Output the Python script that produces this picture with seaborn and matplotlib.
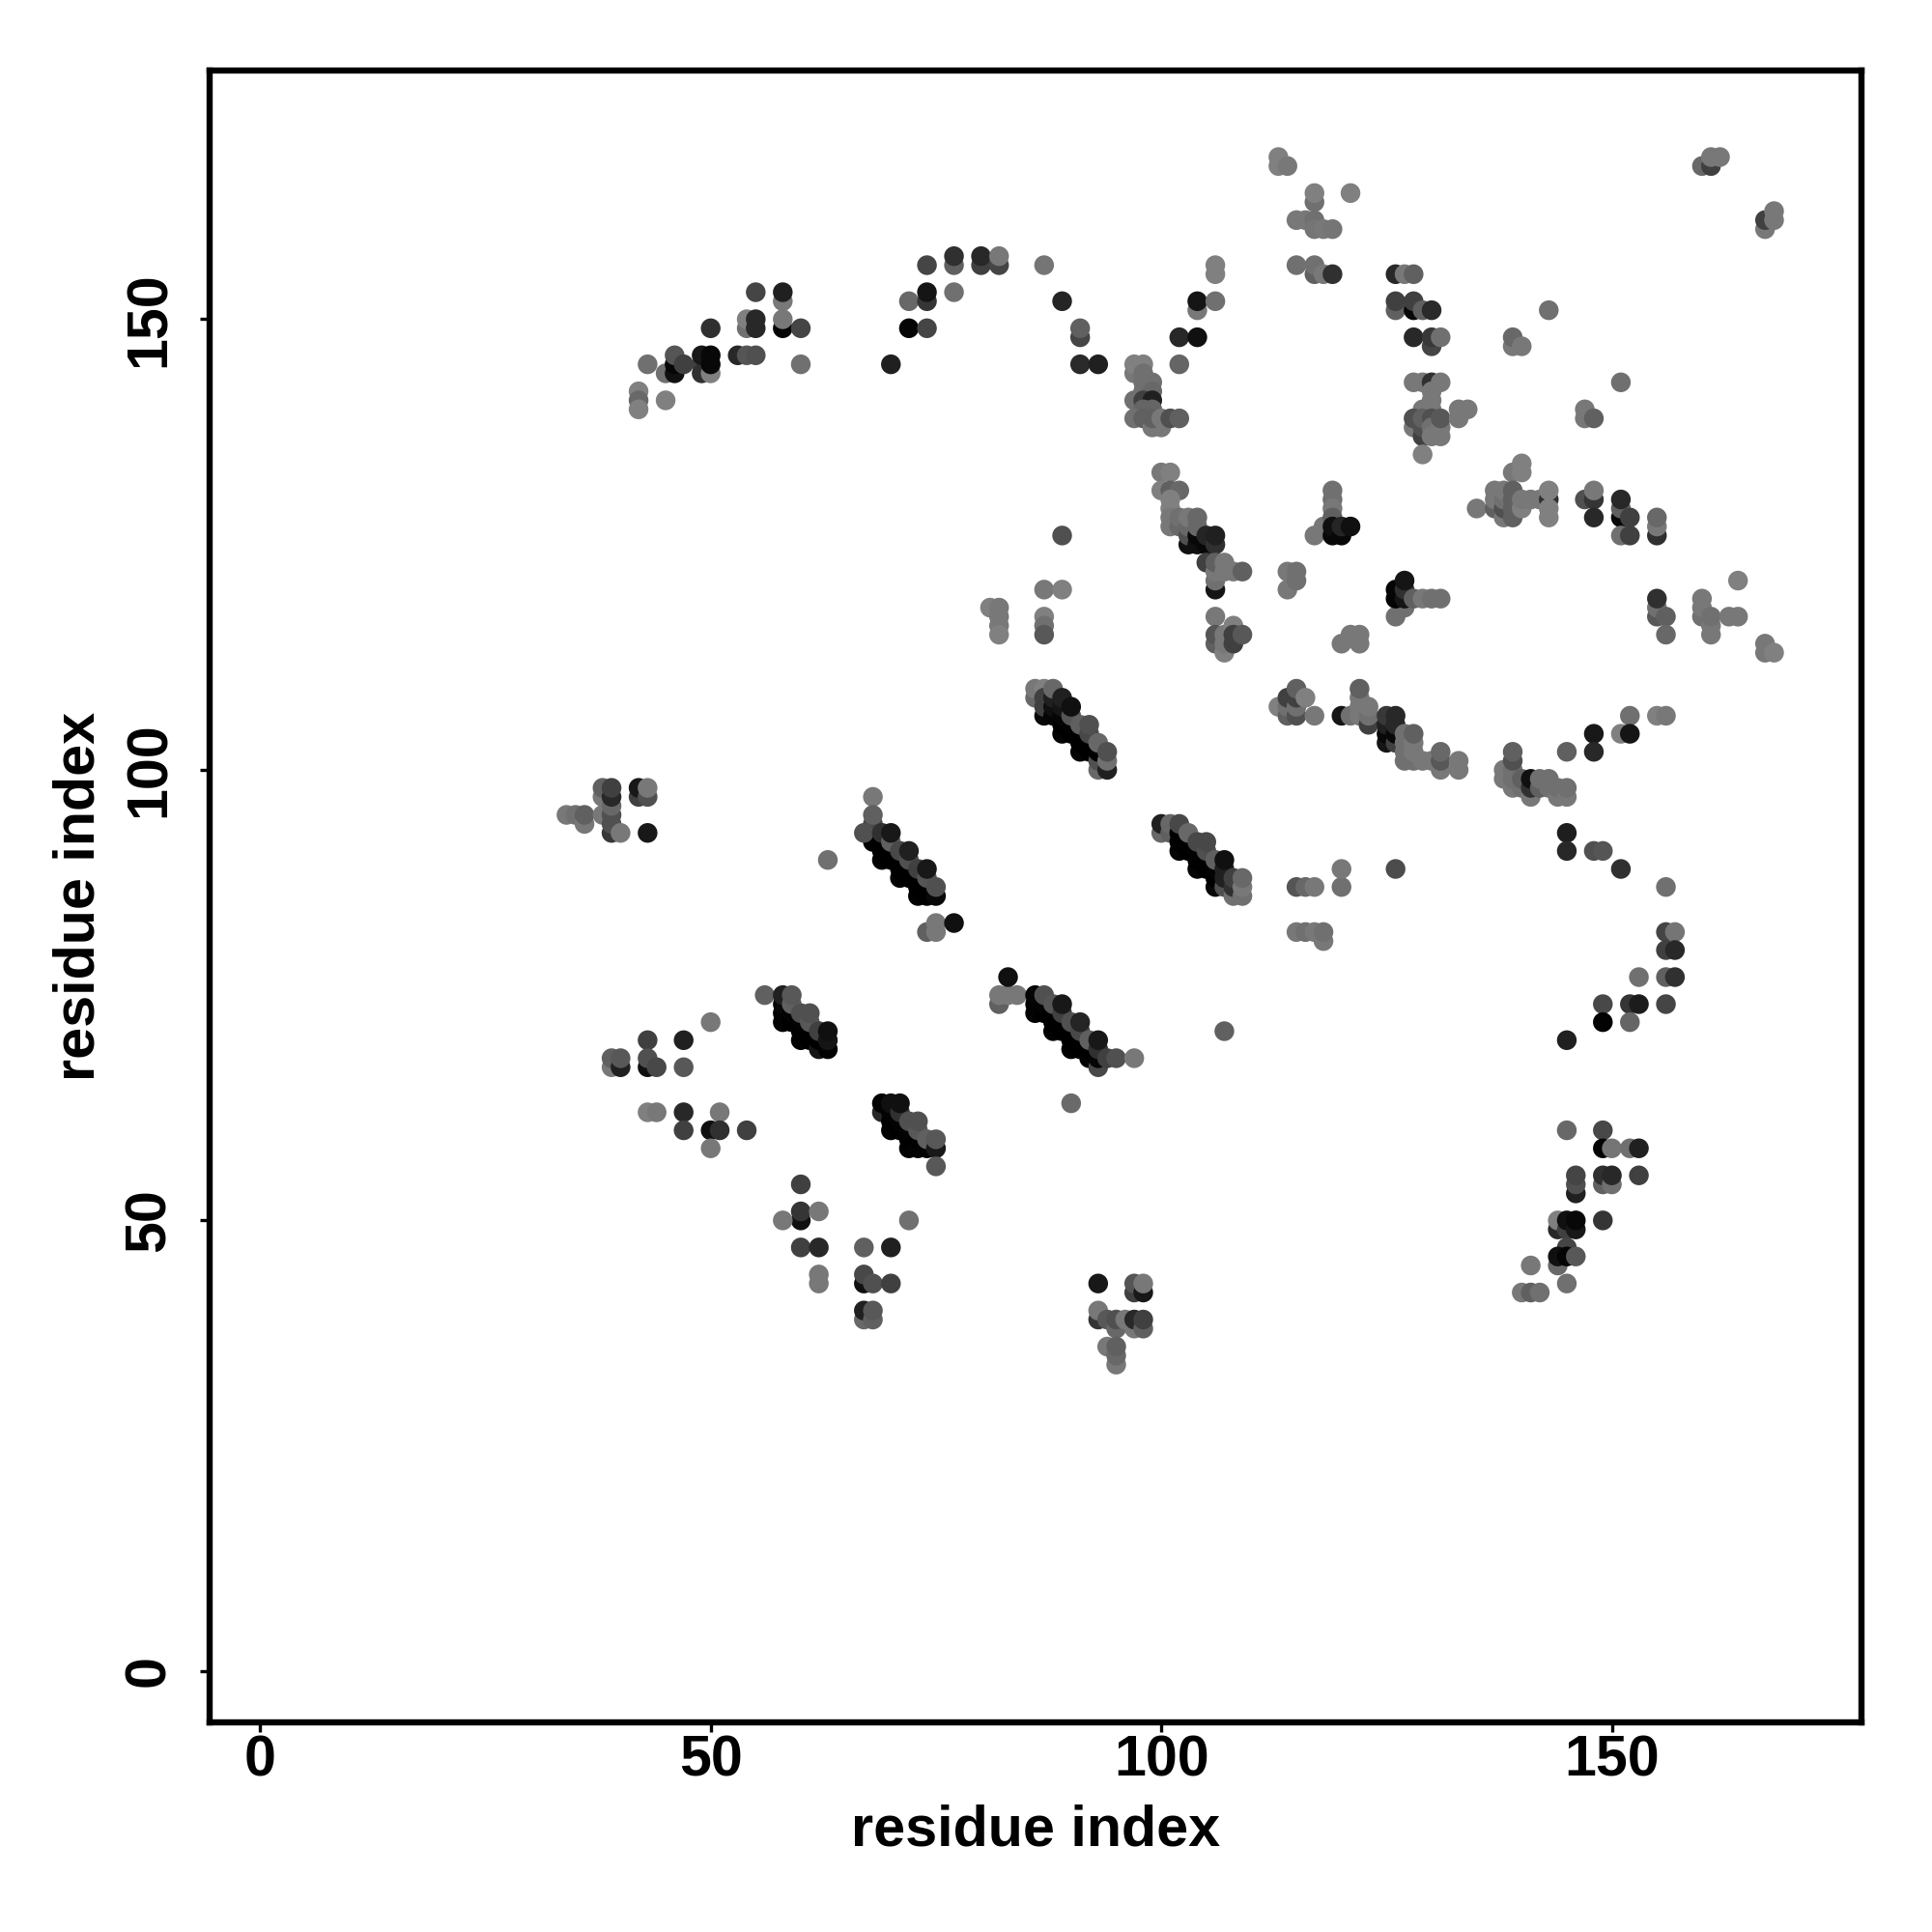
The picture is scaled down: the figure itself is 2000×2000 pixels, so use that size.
import matplotlib.pyplot as plt
import seaborn as sns
import pandas as pd

# (residue i, residue j, grey level)
upper_left = [
    (42,142,0x80),(42,141,0x68),(42,140,0x80),(43,145,0x70),(45,141,0x80),(45,144,0x70),
    (46,144,0x10),(46,145,0x05),(46,146,0x55),(47,145,0x40),(49,145,0x40),(49,144,0x30),
    (49,146,0x18),(50,144,0x80),(50,146,0x08),(50,145,0x08),(50,149,0x30),(53,146,0x28),
    (54,146,0x55),(55,146,0x50),(54,149,0x70),(54,150,0x80),(55,150,0x28),(55,149,0x28),
    (55,153,0x45),(58,152,0x78),(58,153,0x20),(58,149,0x05),(58,150,0x78),(60,149,0x45),
    (60,145,0x70),(70,145,0x20),(72,149,0x05),(74,149,0x45),(72,152,0x68),(74,152,0x35),
    (74,153,0x15),(74,156,0x45),(77,156,0x60),(77,157,0x30),(77,153,0x70),(80,156,0x40),
    (80,157,0x28),(82,156,0x45),(82,157,0x78),(87,156,0x75),(89,152,0x25),(91,148,0x45),
    (91,149,0x60),(91,145,0x2a),(93,145,0x20),
]
upper_mid = [
    (97,144,0x78),(97,145,0x80),(98,145,0x80),(98,144,0x70),(98,143,0x70),(99,143,0x70),
    (98,142,0x70),(99,142,0x68),(97,141,0x70),(98,141,0x40),(99,141,0x20),(98,140,0x65),
    (99,140,0x65),(97,139,0x70),(98,139,0x60),(99,138,0x78),(100,138,0x78),(99,139,0x60),
    (100,139,0x78),(101,139,0x50),(102,139,0x60),(102,145,0x65),(102,148,0x28),(104,148,0x10),
    (104,151,0x78),(104,152,0x15),(106,152,0x70),(106,155,0x80),(106,156,0x80),
    (113,168,0x80),(113,167,0x80),(114,167,0x78),(117,163,0x70),(117,164,0x80),(121,164,0x80),
    (115,161,0x78),(116,161,0x78),(117,161,0x70),(117,160,0x75),(118,160,0x78),(119,160,0x75),
    (115,156,0x70),(117,155,0x60),(117,156,0x70),(118,155,0x78),(119,155,0x30),
]
upper_right = [
    (126,155,0x28),(127,155,0x78),(128,155,0x60),(126,151,0x60),(126,152,0x40),(128,151,0x08),
    (128,152,0x40),(129,151,0x60),(130,151,0x2a),(128,148,0x28),(130,147,0x45),(130,148,0x38),
    (131,148,0x70),(128,143,0x78),(129,143,0x78),(130,143,0x30),(131,143,0x78),(130,142,0x78),
    (130,141,0x78),(129,140,0x78),(130,140,0x78),(128,138,0x78),(128,139,0x50),(129,137,0x40),
    (129,138,0x50),(129,139,0x60),(130,139,0x50),(130,138,0x70),(130,137,0x78),(131,138,0x78),
    (131,137,0x78),(131,139,0x58),(129,135,0x80),(133,139,0x78),(133,140,0x78),(134,140,0x78),
    (139,147,0x78),(139,148,0x68),(140,147,0x78),(143,151,0x70),(151,143,0x70),(147,139,0x78),
    (147,140,0x78),(148,139,0x60),(160,167,0x68),(161,167,0x40),(161,168,0x78),(162,168,0x78),
    (167,160,0x78),(167,161,0x40),(168,161,0x78),(168,162,0x78),
]
mid_left = [
    (89,126,0x50),(87,120,0x78),(89,120,0x80),(81,118,0x80),(82,118,0x78),(82,117,0x78),
    (82,116,0x78),(82,115,0x80),(87,117,0x80),(87,116,0x70),(87,115,0x58),
    (100,133,0x78),(101,133,0x80),(100,131,0x80),(101,131,0x60),(102,131,0x68),(101,130,0x80),
    (101,129,0x80),(101,128,0x78),(101,127,0x78),(102,127,0x68),(102,128,0x70),(103,125,0x10),
    (103,126,0x50),(103,127,0x68),(103,128,0x78),(104,125,0x10),(104,126,0x08),(104,127,0x68),
    (104,128,0x68),(105,125,0x08),(105,126,0x25),(106,125,0x30),(106,126,0x20),
    (105,123,0x40),(106,120,0x15),(106,121,0x70),(106,122,0x78),(106,123,0x60),(107,123,0x78),
    (107,122,0x78),(108,122,0x78),(109,122,0x60),(106,117,0x78),(106,114,0x60),(106,115,0x55),
    (107,113,0x80),(107,114,0x78),(107,115,0x78),(108,116,0x80),(108,114,0x40),(108,115,0x40),
    (109,115,0x58),(114,120,0x78),(114,122,0x78),(115,121,0x70),(115,122,0x70),
    (117,126,0x78),(118,127,0x78),(119,131,0x70),(119,130,0x70),(119,129,0x78),(119,128,0x60),
    (119,126,0x08),(119,127,0x10),(120,126,0x08),(120,127,0x25),(121,127,0x10),
    (120,114,0x78),(121,115,0x78),(122,114,0x78),(122,115,0x78),
]
mid_center = [
    (113,107,0x80),(114,106,0x60),(114,107,0x70),(114,108,0x40),(115,106,0x50),(115,107,0x70),
    (115,108,0x40),(115,109,0x60),(116,108,0x80),(117,106,0x78),(120,106,0x15),(121,106,0x70),
    (122,106,0x78),(122,107,0x78),(122,108,0x78),(122,109,0x60),(123,105,0x40),(123,106,0x70),
    (123,107,0x78),(125,103,0x15),(125,104,0x08),(125,105,0x20),(125,106,0x38),(126,103,0x40),
    (126,104,0x08),(126,105,0x28),(126,106,0x28),(127,101,0x70),(127,102,0x70),(127,103,0x70),
    (127,104,0x70),(128,101,0x70),(128,102,0x78),(128,103,0x78),(128,104,0x60),(129,101,0x78),
    (130,101,0x78),(131,100,0x78),(131,101,0x58),(131,102,0x68),(133,100,0x78),(133,101,0x78),
    (126,117,0x70),(127,118,0x70),(126,119,0x05),(126,120,0x05),(127,119,0x15),(127,120,0x30),
    (127,121,0x15),(128,119,0x60),(129,119,0x78),(130,119,0x70),(131,119,0x70),
]
mid_right = [
    (135,129,0x78),(139,133,0x78),(140,133,0x80),(140,134,0x80),(137,129,0x60),(137,130,0x78),
    (137,131,0x78),(138,128,0x78),(138,129,0x50),(138,130,0x70),(138,131,0x78),(139,128,0x60),
    (139,129,0x60),(139,130,0x60),(139,131,0x60),(140,129,0x80),(140,130,0x78),(141,130,0x78),
    (142,130,0x78),(143,130,0x30),(143,128,0x80),(143,129,0x80),(143,131,0x80),
    (147,130,0x50),(148,130,0x35),(148,131,0x78),(148,128,0x28),(151,128,0x08),(151,129,0x60),
    (151,130,0x28),(152,128,0x40),(151,126,0x70),(152,126,0x40),(155,126,0x30),(155,127,0x78),
    (155,128,0x68),(155,117,0x58),(155,118,0x70),(155,119,0x30),(156,117,0x60),(156,115,0x68),
    (160,117,0x70),(160,118,0x78),(160,119,0x78),(161,115,0x78),(161,116,0x78),(161,117,0x70),
    (163,117,0x78),(164,117,0x78),(164,121,0x80),(167,113,0x78),(167,114,0x78),(168,113,0x80),
    (152,106,0x70),(155,106,0x80),(156,106,0x78),(151,104,0x80),(152,104,0x15),(148,104,0x18),
    (148,102,0x28),(145,102,0x60),
    (139,98,0x78),(138,99,0x78),(138,100,0x78),(139,99,0x70),(139,100,0x70),(139,101,0x50),
    (139,102,0x60),(140,98,0x70),(140,99,0x60),(141,97,0x78),(141,98,0x30),(141,99,0x10),
    (142,98,0x60),(142,99,0x70),(143,98,0x70),(143,99,0x70),(144,97,0x78),(144,98,0x70),
    (145,97,0x78),(145,98,0x70),
]
diag_upper = [
    (86,108,0x68),(86,109,0x78),(87,109,0x80),(87,106,0x08),(87,107,0x40),(87,108,0x40),
    (88,106,0x05),(88,107,0x10),(88,108,0x20),(88,109,0x68),(89,104,0x05),(89,105,0x00),
    (89,106,0x05),(89,107,0x15),(89,108,0x20),(90,104,0x00),(90,105,0x03),(90,106,0x55),
    (90,107,0x10),(91,102,0x05),(91,103,0x00),(91,104,0x00),(91,105,0x60),(92,102,0x00),
    (92,103,0x00),(92,104,0x48),(92,105,0x50),(93,100,0x68),(93,101,0x50),(93,102,0x00),
    (93,103,0x68),(94,100,0x20),(94,101,0x70),(94,102,0x50),
]
diag_right = [
    (100,93,0x68),(100,94,0x20),(101,93,0x60),(101,94,0x68),(102,91,0x05),(102,92,0x00),
    (102,93,0x00),(102,94,0x48),(103,91,0x00),(103,92,0x00),(103,93,0x68),(104,89,0x05),
    (104,90,0x00),(104,91,0x02),(104,92,0x48),(105,89,0x00),(105,90,0x00),(105,91,0x50),
    (105,92,0x48),(106,87,0x08),(106,88,0x00),(106,89,0x03),(106,90,0x60),(107,87,0x50),
    (107,88,0x20),(107,89,0x20),(107,90,0x10),(108,86,0x70),(108,87,0x30),(108,88,0x40),
    (109,86,0x70),(109,87,0x78),(109,88,0x68),
    (115,87,0x55),(116,87,0x68),(117,87,0x78),(120,87,0x70),(120,89,0x78),
    (115,82,0x78),(116,82,0x70),(117,82,0x78),(118,81,0x78),(118,82,0x70),
    (126,89,0x4c),(107,71,0x60),
]
right_arc = [
    (145,93,0x1e),(145,91,0x28),(148,91,0x50),(149,91,0x55),(151,89,0x30),(156,87,0x70),
    (156,82,0x45),(157,82,0x75),(156,80,0x40),(157,80,0x28),(153,77,0x70),(156,77,0x60),
    (157,77,0x30),(149,74,0x48),(152,74,0x35),(153,74,0x1c),(156,74,0x45),(149,72,0x03),
    (152,72,0x65),(145,70,0x20),(145,60,0x68),(149,60,0x48),(149,58,0x05),(150,58,0x75),
    (152,58,0x70),(153,58,0x20),(146,53,0x20),(146,54,0x50),(146,55,0x45),(149,54,0x60),
    (149,55,0x30),(150,54,0x70),(150,55,0x28),(153,55,0x40),(144,49,0x28),(144,50,0x80),
    (145,49,0x40),(145,50,0x10),(146,49,0x18),(146,50,0x08),(149,50,0x35),(144,45,0x68),
    (145,47,0x45),(144,46,0x10),(145,46,0x05),(146,46,0x58),(141,45,0x78),(145,43,0x70),
    (140,42,0x78),(141,42,0x60),(142,42,0x70),
]
left_cluster = [
    (34,95,0x78),(35,95,0x70),(36,94,0x78),(36,95,0x60),(38,97,0x78),(38,98,0x60),(38,95,0x78),
    (39,93,0x38),(39,94,0x50),(39,95,0x50),(39,96,0x68),(39,97,0x28),(39,98,0x40),(40,93,0x78),
    (42,97,0x40),(42,98,0x18),(43,97,0x50),(43,98,0x78),(43,93,0x18),(63,90,0x70),
]
diag_mid = [
    (68,97,0x78),(68,92,0x00),(68,93,0x05),(68,94,0x48),(68,95,0x60),(67,93,0x50),(69,90,0x03),
    (69,91,0x00),(69,92,0x00),(69,93,0x30),(70,90,0x00),(70,91,0x00),(70,92,0x60),(70,93,0x18),
    (71,88,0x03),(71,89,0x00),(71,90,0x00),(71,91,0x48),(72,88,0x00),(72,89,0x00),(72,90,0x50),
    (72,91,0x20),(73,86,0x03),(73,87,0x00),(73,88,0x00),(73,89,0x40),(74,86,0x00),(74,87,0x00),
    (74,88,0x55),(74,89,0x18),(75,86,0x08),(75,87,0x50),
    (74,82,0x60),(75,82,0x78),(75,83,0x78),(77,83,0x10),
]
diag_low_left = [
    (56,75,0x60),(58,72,0x03),(58,73,0x03),(58,74,0x08),(58,75,0x20),(59,72,0x00),(59,73,0x03),
    (59,74,0x60),(59,75,0x58),(60,70,0x03),(60,71,0x00),(60,72,0x03),(60,73,0x50),(61,70,0x00),
    (61,71,0x00),(61,72,0x58),(61,73,0x50),(62,69,0x15),(62,70,0x00),(62,71,0x40),(63,69,0x03),
    (63,70,0x15),(63,71,0x10),
]
diag_low_mid = [
    (82,74,0x60),(82,75,0x78),(83,75,0x78),(84,75,0x78),(83,77,0x10),
    (86,73,0x03),(86,74,0x03),(86,75,0x05),(87,73,0x00),(87,74,0x03),(87,75,0x50),(88,71,0x03),
    (88,72,0x00),(88,73,0x00),(88,74,0x55),(89,71,0x00),(89,72,0x00),(89,73,0x40),(89,74,0x18),
    (90,69,0x03),(90,70,0x00),(90,71,0x00),(90,72,0x50),(91,69,0x00),(91,70,0x00),(91,71,0x48),
    (91,72,0x25),(92,68,0x03),(92,69,0x00),(92,70,0x60),(93,67,0x48),(93,68,0x05),(93,69,0x30),
    (93,70,0x18),(94,68,0x40),(95,68,0x50),(97,68,0x78),(90,63,0x6a),
]
diag_low = [
    (69,62,0x28),(69,63,0x03),(70,60,0x03),(70,61,0x00),(70,62,0x03),(70,63,0x10),(71,60,0x00),
    (71,61,0x03),(71,62,0x30),(71,63,0x10),(72,58,0x03),(72,59,0x00),(72,60,0x03),(72,61,0x50),
    (73,58,0x03),(73,59,0x00),(73,60,0x58),(73,61,0x50),(74,58,0x03),(74,59,0x60),(75,58,0x18),
    (75,59,0x58),(75,56,0x58),
]
lower_left = [
    (50,72,0x78),(43,70,0x40),(47,70,0x20),(39,67,0x78),(39,68,0x60),(40,67,0x20),(40,68,0x58),
    (43,67,0x10),(43,68,0x50),(44,67,0x48),(47,67,0x58),(43,62,0x80),(44,62,0x78),(47,62,0x28),
    (51,62,0x78),(47,60,0x40),(50,60,0x10),(51,60,0x30),(54,60,0x40),(50,58,0x78),
    (60,54,0x40),(60,50,0x10),(60,51,0x35),(62,51,0x78),(58,50,0x78),(60,47,0x40),(62,47,0x28),
    (62,43,0x78),(62,44,0x78),(67,47,0x60),(70,47,0x20),(72,50,0x70),(67,43,0x10),(67,44,0x48),
    (68,43,0x50),(70,43,0x40),(67,39,0x68),(67,40,0x20),(68,39,0x60),(68,40,0x58),
    (93,43,0x18),(97,42,0x40),(97,43,0x55),(98,42,0x18),(98,43,0x78),(93,39,0x35),(93,40,0x78),
    (94,39,0x58),(95,38,0x68),(95,39,0x50),(96,39,0x78),(97,38,0x78),(97,39,0x28),(98,38,0x60),
    (98,39,0x40),(94,36,0x78),(95,34,0x78),(95,35,0x68),(95,36,0x60),
]

contacts = pd.DataFrame(
    upper_left + upper_mid + upper_right + mid_left + mid_center + mid_right
    + diag_upper + diag_right + right_arc + left_cluster + diag_mid
    + diag_low_left + diag_low_mid + diag_low + lower_left,
    columns=["i", "j", "grey"],
)

sns.set_theme(style="white")
plt.rcParams["font.family"] = ["Liberation Sans", "DejaVu Sans"]

fig = plt.figure(figsize=(10, 10), dpi=200)
ax = fig.add_axes([217 / 2000, 1 - 1783 / 2000, 1710 / 2000, 1710 / 2000])

sns.scatterplot(
    data=contacts, x="i", y="j", hue="grey",
    palette="gray", hue_norm=(0, 255),
    s=54, linewidth=0, legend=False, ax=ax,
)

ax.set_xlim(-5.6, 177.7)
ax.set_ylim(-5.7, 177.6)
ax.set_xticks([0, 50, 100, 150])
ax.set_yticks([0, 50, 100, 150])
ax.tick_params(axis="both", direction="out", length=3.5, width=1.2, color="black",
               labelsize=21.3, labelcolor="black", bottom=True, left=True)
ax.tick_params(axis="x", pad=1)
ax.tick_params(axis="y", pad=9)
for lab in ax.get_xticklabels() + ax.get_yticklabels():
    lab.set_fontweight("bold")
for lab in ax.get_yticklabels():
    lab.set_rotation(90)
    lab.set_va("center")
for s in ax.spines.values():
    s.set_linewidth(2.3)
    s.set_color("black")

ax.set_xlabel("residue index", fontsize=21.4, fontweight="bold", color="black", labelpad=6)
ax.set_ylabel("residue index", fontsize=21.4, fontweight="bold", color="black", labelpad=6.5)

fig.savefig("out.png", dpi=200)
